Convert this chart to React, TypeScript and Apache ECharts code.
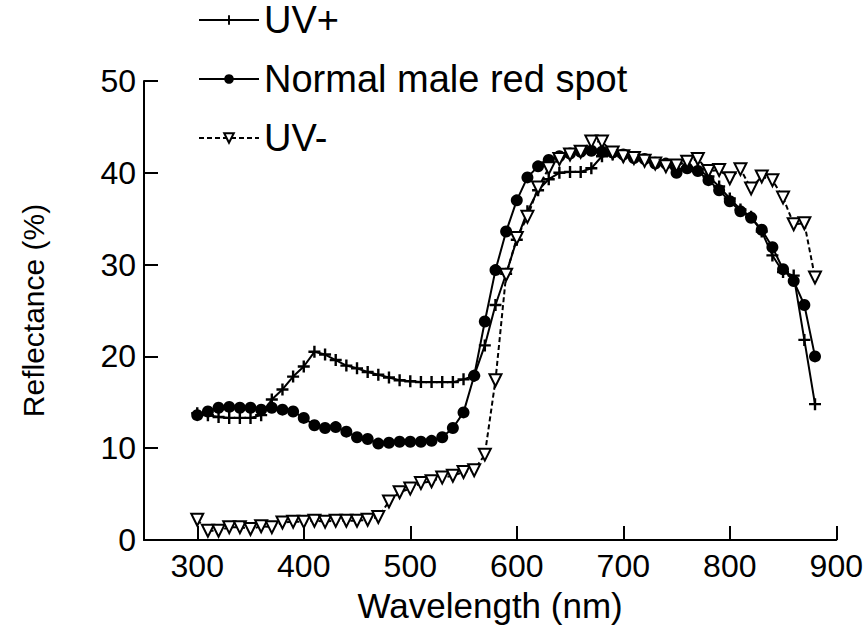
import React, { useEffect, useRef } from "react";
import * as echarts from "echarts";

const wavelengths: number[] = [
  300, 310, 320, 330, 340, 350, 360, 370, 380, 390,
  400, 410, 420, 430, 440, 450, 460, 470, 480, 490,
  500, 510, 520, 530, 540, 550, 560, 570, 580, 590,
  600, 610, 620, 630, 640, 650, 660, 670, 680, 690,
  700, 710, 720, 730, 740, 750, 760, 770, 780, 790,
  800, 810, 820, 830, 840, 850, 860, 870, 880,
];

const uvPlus: number[] = [
  13.8, 13.6, 13.4, 13.3, 13.3, 13.3, 13.6, 15.3, 16.4, 17.8,
  18.9, 20.5, 20.2, 19.6, 19.0, 18.7, 18.3, 18.0, 17.7, 17.4,
  17.3, 17.2, 17.2, 17.2, 17.2, 17.5, 17.9, 21.2, 25.6, 29.0,
  32.7, 35.8, 38.1, 39.3, 40.0, 40.1, 40.1, 40.5, 41.8, 42.0,
  41.8, 41.6, 41.4, 41.1, 40.9, 40.4, 40.6, 40.4, 39.6, 38.5,
  37.2, 36.0, 35.2, 33.6, 31.0, 29.2, 28.8, 21.8, 14.8,
];

const normalRedSpot: number[] = [
  13.6, 14.0, 14.4, 14.5, 14.4, 14.4, 14.2, 14.4, 14.2, 14.0,
  13.3, 12.5, 12.2, 12.3, 11.8, 11.2, 11.0, 10.5, 10.6, 10.7,
  10.7, 10.7, 10.8, 11.2, 12.2, 13.9, 17.9, 23.8, 29.4, 33.6,
  37.0, 39.5, 40.7, 41.4, 41.8, 42.1, 42.3, 42.4, 42.3, 42.2,
  42.0, 41.6, 41.5, 41.0, 41.0, 40.0, 40.5, 40.2, 39.2, 38.1,
  36.9, 35.8, 35.1, 33.8, 31.9, 29.5, 28.2, 25.6, 20.0,
];

const uvMinus: number[] = [
  2.2, 1.0, 1.0, 1.4, 1.4, 1.2, 1.5, 1.4, 1.9, 2.0,
  2.0, 2.1, 2.0, 2.1, 2.1, 2.1, 2.2, 2.5, 4.2, 5.2,
  5.6, 6.2, 6.4, 6.8, 7.0, 7.4, 7.6, 9.3, 17.4, 28.9,
  32.9, 35.2, 38.4, 40.5, 41.5, 42.0, 42.3, 43.4, 43.4, 42.2,
  41.8, 41.6, 41.3, 41.0, 40.7, 40.8, 41.2, 41.5, 40.2, 40.3,
  39.4, 40.4, 38.3, 39.6, 39.2, 37.3, 34.4, 34.5, 28.6,
];

const seriesNames: string[] = ["UV+", "Normal male red spot", "UV-"];
const xAxisName = "Wavelength (nm)";
const yAxisName = "Reflectance (%)";

const FONT = "'Liberation Sans', Arial, Helvetica, sans-serif";
const PLUS = "path://M4,0H6V4H10V6H6V10H4V6H0V4H4Z";

const pairs = (ys: number[]) => wavelengths.map((x, i) => [x, ys[i]]);

export default function App() {
  const ref = useRef<HTMLDivElement>(null);

  useEffect(() => {
    document.body.style.margin = "0";
    if (!ref.current) return;
    const chart = echarts.init(ref.current, undefined, { renderer: "svg" });

    const legendBase = (name: string, top: number) => ({
      data: [name],
      left: 198,
      top,
      padding: 0,
      orient: "vertical",
      itemWidth: 60,
      itemHeight: 12,
      itemGap: 0,
      selectedMode: false,
      textStyle: {
        fontFamily: FONT,
        fontSize: 38,
        color: "#000",
        lineHeight: 40,
      },
    });

    chart.setOption({
      animation: false,
      backgroundColor: "#fff",
      legend: [
        legendBase(seriesNames[0], 0),
        legendBase(seriesNames[1], 59),
        legendBase(seriesNames[2], 118),
      ],
      grid: { left: 144, right: 25, top: 81, bottom: 99, containLabel: false },
      xAxis: {
        type: "value",
        min: 250,
        max: 900,
        minInterval: 100,
        maxInterval: 100,
        name: xAxisName,
        nameLocation: "middle",
        nameGap: 48,
        nameTextStyle: { fontFamily: FONT, fontSize: 35, color: "#000" },
        axisLine: { lineStyle: { color: "#000", width: 2 } },
        axisTick: { inside: true, length: 14, lineStyle: { color: "#000", width: 2 } },
        axisLabel: {
          showMinLabel: false,
          fontFamily: FONT,
          fontSize: 32,
          color: "#000",
          margin: 10,
        },
        splitLine: { show: false },
      },
      yAxis: {
        type: "value",
        min: 0,
        max: 50,
        interval: 10,
        name: yAxisName,
        nameLocation: "middle",
        nameGap: 96,
        nameTextStyle: { fontFamily: FONT, fontSize: 30, color: "#000" },
        axisLine: { lineStyle: { color: "#000", width: 2 } },
        axisTick: { inside: true, length: 14, lineStyle: { color: "#000", width: 2 } },
        axisLabel: { fontFamily: FONT, fontSize: 32, color: "#000", margin: 8 },
        splitLine: { show: false },
      },
      series: [
        {
          name: seriesNames[0],
          type: "line",
          data: pairs(uvPlus),
          symbol: PLUS,
          symbolSize: 12,
          itemStyle: { color: "#000" },
          lineStyle: { color: "#000", width: 2 },
        },
        {
          name: seriesNames[1],
          type: "line",
          data: pairs(normalRedSpot),
          symbol: "circle",
          symbolSize: 12,
          itemStyle: { color: "#000" },
          lineStyle: { color: "#000", width: 2 },
        },
        {
          name: seriesNames[2],
          type: "line",
          data: pairs(uvMinus),
          symbol: "triangle",
          symbolRotate: 180,
          symbolSize: 12,
          itemStyle: { color: "#fff", borderColor: "#000", borderWidth: 2 },
          lineStyle: { color: "#000", width: 2, type: [5, 3] },
        },
      ],
    });

    return () => chart.dispose();
  }, []);

  return <div ref={ref} style={{ width: 866, height: 639 }} />;
}
